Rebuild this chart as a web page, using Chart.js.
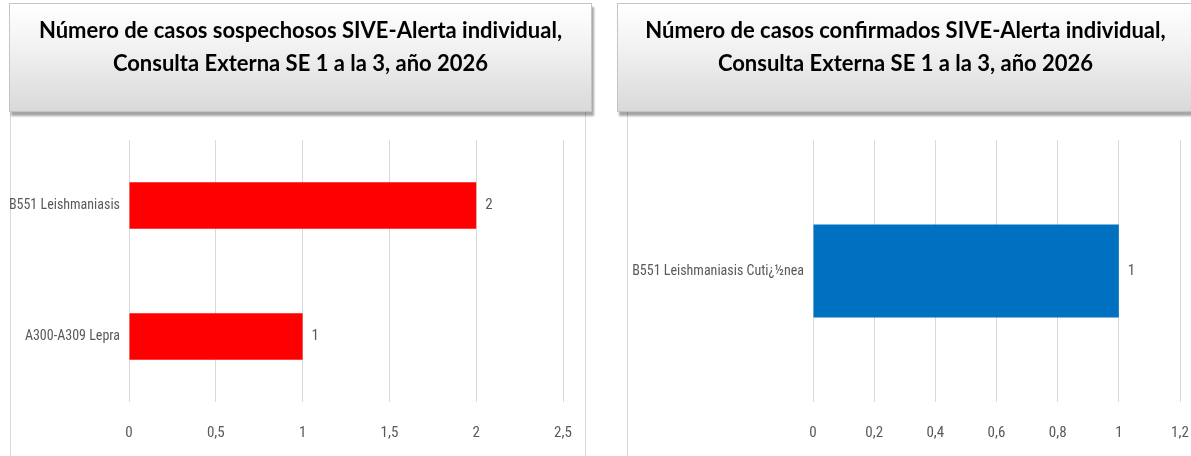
<!DOCTYPE html>
<html>
<head>
<meta charset="utf-8">
<script src="https://cdn.jsdelivr.net/npm/chart.js@4.4.1/dist/chart.umd.min.js"></script>
<style>
  html, body { margin:0; padding:0; background:#fff; width:1191px; height:456px; overflow:hidden; }
  .title {
    position:absolute; box-sizing:border-box; top:3px; height:109px;
    border:1px solid #c4c4c4;
    background:linear-gradient(to bottom, #ffffff 0%, #f2f2f2 40%, #d9d9d9 100%);
    box-shadow: 2px 4px 2px rgba(0,0,0,0.35);
    font-family:'Lato','Open Sans',sans-serif; font-weight:bold; font-size:22px; color:#000;
    text-align:center; line-height:33px; padding-top:9px; white-space:nowrap;
  }
  .frame { position:absolute; top:112px; height:360px; box-sizing:border-box; border-left:1px solid #d9d9d9; }
  .chartbox { position:absolute; top:112px; height:344px; }
</style>
</head>
<body>
<div class="frame" style="left:10px;width:576px;border-right:1px solid #d9d9d9;"></div>
<div class="frame" style="left:627px;width:600px;"></div>
<div class="chartbox" style="left:10px;width:575px;"><canvas id="c1"></canvas></div>
<div class="chartbox" style="left:627px;width:564px;"><canvas id="c2"></canvas></div>
<div class="title" style="left:9px;width:583px;">Número de casos sospechosos SIVE-Alerta individual,<br>Consulta Externa SE 1 a la 3, año 2026</div>
<div class="title" style="left:617px;width:577px;">Número de casos confirmados SIVE-Alerta individual,<br>Consulta Externa SE 1 a la 3, año 2026</div>
<script>
const suspectCategories = ['B551 Leishmaniasis', 'A300-A309 Lepra'];
const suspectValues = [2, 1];
const suspectTicks = ['0', '0,5', '1', '1,5', '2', '2,5'];

const confirmedCategories = ['B551 Leishmaniasis Cuti¿½nea'];
const confirmedValues = [1];
const confirmedTicks = ['0', '0,2', '0,4', '0,6', '0,8', '1', '1,2'];

const FONT = "'Roboto Condensed','Liberation Sans Narrow','Arial Narrow','DejaVu Sans Condensed',sans-serif";
const GRAY = '#595959';

const valueLabels = {
  id: 'valueLabels',
  afterDatasetsDraw(chart) {
    const ctx = chart.ctx;
    ctx.save();
    ctx.font = "15px " + FONT;
    ctx.fillStyle = GRAY;
    ctx.textAlign = 'left';
    ctx.textBaseline = 'middle';
    chart.data.datasets.forEach((ds, di) => {
      chart.getDatasetMeta(di).data.forEach((bar, i) => {
        ctx.fillText(String(ds.data[i]), bar.x + 9, bar.y);
      });
    });
    ctx.restore();
  }
};

function makeChart(id, cats, vals, color, maxV, step, tickLabels, leftW, rightPad) {
  return new Chart(document.getElementById(id), {
    type: 'bar',
    data: { labels: cats, datasets: [{ data: vals, backgroundColor: color, borderWidth: 0,
      categoryPercentage: 1, barPercentage: 0.355 }] },
    options: {
      indexAxis: 'y',
      responsive: true, maintainAspectRatio: false, animation: false,
      layout: { padding: { top: 28, right: rightPad, left: 0, bottom: 0 } },
      plugins: { legend: { display: false }, tooltip: { enabled: false } },
      scales: {
        x: {
          min: 0, max: maxV,
          ticks: { stepSize: step, color: GRAY, font: { family: FONT, size: 15 }, padding: 22,
            callback: (v, i) => tickLabels[i] },
          grid: { color: '#d9d9d9', drawTicks: false, lineWidth: 1 },
          border: { display: false },
          afterFit: (a) => { a.height = 54; a.paddingLeft = 0; a.paddingRight = 0; }
        },
        y: {
          ticks: { color: GRAY, font: { family: FONT, size: 14 }, padding: 9 },
          grid: { display: false, drawTicks: false },
          border: { display: false },
          afterFit: (a) => { a.width = leftW; a.paddingTop = 0; a.paddingBottom = 0; }
        }
      }
    },
    plugins: [valueLabels]
  });
}

makeChart('c1', suspectCategories, suspectValues, '#ff0000', 2.5, 0.5, suspectTicks, 119, 22);
makeChart('c2', confirmedCategories, confirmedValues, '#0070c0', 1.2, 0.2, confirmedTicks, 186, 11);
</script>
</body>
</html>
